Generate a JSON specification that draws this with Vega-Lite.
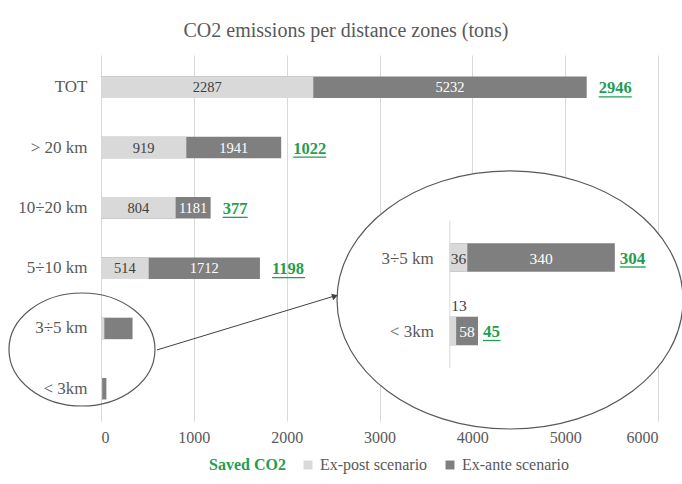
{
  "$schema": "https://vega.github.io/schema/vega-lite/v6.json",
  "width": 557,
  "height": 366,
  "autosize": "none",
  "padding": {"left": 101, "top": 55, "right": 24, "bottom": 63},
  "background": "white",
  "title": {"text": "CO2 emissions per distance zones (tons)", "font": "Liberation Serif", "fontSize": 20, "fontWeight": "normal", "color": "#595959", "anchor": "middle", "frame": "bounds", "offset": 14},
  "config": {"view": {"stroke": null}, "font": "Liberation Serif", "legend": {"layout": {"anchor": "middle"}}},
  "data": {"values": [
    {"zone": "TOT", "expost": 2287, "exante": 5232, "saved": 2946},
    {"zone": "> 20 km", "expost": 919, "exante": 1941, "saved": 1022},
    {"zone": "10÷20 km", "expost": 804, "exante": 1181, "saved": 377},
    {"zone": "5÷10 km", "expost": 514, "exante": 1712, "saved": 1198},
    {"zone": "3÷5 km", "expost": 36, "exante": 340, "saved": 304},
    {"zone": "< 3km", "expost": 13, "exante": 58, "saved": 45}
  ]},
  "resolve": {"scale": {"x": "independent", "y": "independent"}},
  "layer": [
    {
      "encoding": {
        "y": {"field": "zone", "type": "nominal", "scale": {"domain": ["TOT", "> 20 km", "10÷20 km", "5÷10 km", "3÷5 km", "< 3km"], "paddingInner": 0.643, "paddingOuter": 0.357},
          "axis": {"title": null, "domain": false, "ticks": false, "labelPadding": 14, "labelFontSize": 17, "labelColor": "#595959", "labelFont": "Liberation Serif"}}
      },
      "layer": [
        {
          "mark": {"type": "bar"},
          "encoding": {
            "x": {"field": "exante", "type": "quantitative", "title": null, "scale": {"domain": [0, 6000], "nice": false},
              "axis": {"values": [0, 1000, 2000, 3000, 4000, 5000, 6000], "format": "d", "grid": true, "gridColor": "#d9d9d9", "domain": false, "ticks": false, "labelFontSize": 16, "labelColor": "#595959", "labelPadding": 8, "labelFont": "Liberation Serif"}},
            "color": {"datum": "Ex-ante scenario", "type": "nominal",
              "scale": {"domain": ["Saved CO2", "Ex-post scenario", "Ex-ante scenario"], "range": ["#1f9e52", "#d9d9d9", "#7f7f7f"]},
              "legend": {"orient": "bottom", "direction": "horizontal", "title": null, "symbolType": "square", "symbolSize": 80, "symbolStrokeWidth": 0, "labelFontSize": 16, "labelFont": "Liberation Serif", "columnPadding": 14, "offset": 12,
                "labelColor": {"expr": "datum.label === 'Saved CO2' ? '#1f9e52' : '#595959'"},
                "labelFontWeight": {"expr": "datum.label === 'Saved CO2' ? 'bold' : 'normal'"},
                "symbolOpacity": {"expr": "datum.label === 'Saved CO2' ? 0 : 1"}}}
          }
        },
        {
          "mark": {"type": "bar"},
          "encoding": {
            "x": {"field": "expost", "type": "quantitative", "title": null},
            "color": {"datum": "Ex-post scenario", "type": "nominal"}
          }
        },
        {
          "transform": [{"filter": {"field": "zone", "oneOf": ["TOT", "> 20 km", "10÷20 km", "5÷10 km"]}}, {"fold": ["expost", "saved"], "as": ["seg", "len"]}],
          "mark": {"type": "text", "fontSize": 14.5, "font": "Liberation Serif", "baseline": "middle", "dy": 1, "color": "#404040"},
          "encoding": {
            "x": {"field": "len", "type": "quantitative", "stack": "zero", "bandPosition": 0.5, "title": null},
            "detail": {"field": "seg"},
            "order": {"field": "seg", "sort": "ascending"},
            "text": {"field": "len", "type": "quantitative", "format": "d"},
            "opacity": {"condition": {"test": "datum.seg === 'expost'", "value": 1}, "value": 0}
          }
        },
        {
          "transform": [{"filter": {"field": "zone", "oneOf": ["TOT", "> 20 km", "10÷20 km", "5÷10 km"]}}, {"fold": ["expost", "saved"], "as": ["seg", "len"]}],
          "mark": {"type": "text", "fontSize": 14.5, "font": "Liberation Serif", "baseline": "middle", "dy": 1, "color": "#ffffff"},
          "encoding": {
            "x": {"field": "len", "type": "quantitative", "stack": "zero", "bandPosition": 0.5, "title": null},
            "detail": {"field": "seg"},
            "order": {"field": "seg", "sort": "ascending"},
            "text": {"field": "exante", "type": "quantitative", "format": "d"},
            "opacity": {"condition": {"test": "datum.seg === 'saved'", "value": 1}, "value": 0}
          }
        },
        {
          "transform": [{"filter": {"field": "zone", "oneOf": ["TOT", "> 20 km", "10÷20 km", "5÷10 km"]}}],
          "mark": {"type": "text", "align": "left", "baseline": "middle", "dx": 12, "dy": 1, "fontSize": 16.5, "fontWeight": "bold", "font": "Liberation Serif"},
          "encoding": {
            "x": {"field": "exante", "type": "quantitative", "title": null},
            "text": {"field": "saved", "type": "quantitative", "format": "d"},
            "color": {"datum": "Saved CO2", "type": "nominal"}
          }
        },
        {
          "transform": [{"filter": {"field": "zone", "oneOf": ["TOT", "> 20 km", "5÷10 km"]}}],
          "mark": {"type": "rule", "xOffset": 12, "x2Offset": 45, "yOffset": 9.5, "strokeWidth": 1.3, "color": "#1f9e52"},
          "encoding": {"x": {"field": "exante", "type": "quantitative", "title": null}, "x2": {"field": "exante"}}
        },
        {
          "transform": [{"filter": {"field": "zone", "equal": "10÷20 km"}}],
          "mark": {"type": "rule", "xOffset": 12, "x2Offset": 37, "yOffset": 9.5, "strokeWidth": 1.3, "color": "#1f9e52"},
          "encoding": {"x": {"field": "exante", "type": "quantitative", "title": null}, "x2": {"field": "exante"}}
        },
        {
          "transform": [{"filter": {"field": "zone", "equal": "TOT"}}],
          "mark": {"type": "point", "shape": "M1,0C1,0.4275,0.552,0.774,0,0.774C-0.552,0.774,-1,0.4275,-1,0C-1,-0.4275,-0.552,-0.774,0,-0.774C0.552,-0.774,1,-0.4275,1,0Z", "size": 21316, "filled": false, "stroke": "#595959", "strokeWidth": 1.2, "opacity": 1},
          "encoding": {"x": {"datum": -205, "type": "quantitative"}, "y": {"datum": "3÷5 km", "type": "nominal", "bandPosition": 1.479}}
        },
        {
          "transform": [{"filter": {"field": "zone", "equal": "TOT"}}],
          "mark": {"type": "rule", "stroke": "#404040", "strokeWidth": 1},
          "encoding": {"x": {"datum": 603, "type": "quantitative"}, "x2": {"datum": 2553}, "y": {"datum": "3÷5 km", "type": "nominal", "bandPosition": 1.5}, "y2": {"datum": "3÷5 km", "bandPosition": -1.056}}
        },
        {
          "transform": [{"filter": {"field": "zone", "equal": "TOT"}}],
          "mark": {"type": "point", "shape": "M1,0C1,0.412,0.552,0.746,0,0.746C-0.552,0.746,-1,0.412,-1,0C-1,-0.412,-0.552,-0.746,0,-0.746C0.552,-0.746,1,-0.412,1,0Z", "size": 119716, "filled": true, "fill": "#ffffff", "fillOpacity": 1, "stroke": "#595959", "strokeWidth": 1.2, "opacity": 1},
          "encoding": {"x": {"datum": 4406, "type": "quantitative"}, "y": {"datum": "3÷5 km", "type": "nominal", "bandPosition": -0.823}}
        },
        {
          "transform": [{"filter": {"field": "zone", "equal": "TOT"}}],
          "mark": {"type": "point", "shape": "triangle-right", "size": 45, "angle": 343, "filled": true, "fill": "#404040", "opacity": 1},
          "encoding": {"x": {"datum": 2520, "type": "quantitative"}, "y": {"datum": "3÷5 km", "type": "nominal", "bandPosition": -1.0}}
        }
      ]
    },
    {
      "transform": [{"filter": {"field": "zone", "oneOf": ["3÷5 km", "< 3km"]}}],
      "encoding": {
        "y": {"field": "zone", "type": "nominal", "scale": {"domain": ["3÷5 km", "< 3km"], "range": [151.5, 327], "paddingInner": 0.612, "paddingOuter": 0.5, "align": 0.5}, "axis": null}
      },
      "layer": [
        {
          "mark": {"type": "bar"},
          "encoding": {"x": {"field": "exante", "type": "quantitative", "scale": {"domain": [-719, 429], "nice": false}, "axis": null}, "color": {"datum": "Ex-ante scenario", "type": "nominal"}}
        },
        {
          "mark": {"type": "bar"},
          "encoding": {"x": {"field": "expost", "type": "quantitative", "axis": null}, "color": {"datum": "Ex-post scenario", "type": "nominal"}}
        },
        {
          "mark": {"type": "tick", "orient": "vertical", "size": 73.5, "thickness": 1, "color": "#d9d9d9", "opacity": 1},
          "encoding": {"x": {"datum": 0, "type": "quantitative", "axis": null}}
        },
        {
          "mark": {"type": "text", "align": "right", "baseline": "middle", "dx": -16, "dy": 1, "fontSize": 17, "font": "Liberation Serif", "color": "#595959"},
          "encoding": {"x": {"datum": 0, "type": "quantitative", "axis": null}, "text": {"field": "zone", "type": "nominal"}}
        },
        {
          "transform": [{"fold": ["expost", "saved"], "as": ["seg", "len"]}],
          "mark": {"type": "text", "fontSize": 15.5, "font": "Liberation Serif", "baseline": "middle", "dy": 1, "color": "#404040"},
          "encoding": {
            "x": {"field": "len", "type": "quantitative", "stack": "zero", "bandPosition": 0.5, "axis": null},
            "detail": {"field": "seg"},
            "order": {"field": "seg", "sort": "ascending"},
            "text": {"field": "len", "type": "quantitative", "format": "d"},
            "opacity": {"condition": {"test": "datum.seg === 'expost' && datum.zone === '3÷5 km'", "value": 1}, "value": 0}
          }
        },
        {
          "transform": [{"fold": ["expost", "saved"], "as": ["seg", "len"]}],
          "mark": {"type": "text", "fontSize": 15.5, "font": "Liberation Serif", "baseline": "middle", "dy": -25, "dx": 6, "color": "#404040"},
          "encoding": {
            "x": {"field": "len", "type": "quantitative", "stack": "zero", "bandPosition": 0.5, "axis": null},
            "detail": {"field": "seg"},
            "order": {"field": "seg", "sort": "ascending"},
            "text": {"field": "len", "type": "quantitative", "format": "d"},
            "opacity": {"condition": {"test": "datum.seg === 'expost' && datum.zone === '< 3km'", "value": 1}, "value": 0}
          }
        },
        {
          "transform": [{"fold": ["expost", "saved"], "as": ["seg", "len"]}],
          "mark": {"type": "text", "fontSize": 15.5, "font": "Liberation Serif", "baseline": "middle", "dy": 1, "color": "#ffffff"},
          "encoding": {
            "x": {"field": "len", "type": "quantitative", "stack": "zero", "bandPosition": 0.5, "axis": null},
            "detail": {"field": "seg"},
            "order": {"field": "seg", "sort": "ascending"},
            "text": {"field": "exante", "type": "quantitative", "format": "d"},
            "opacity": {"condition": {"test": "datum.seg === 'saved'", "value": 1}, "value": 0}
          }
        },
        {
          "mark": {"type": "text", "align": "left", "baseline": "middle", "dx": 5, "dy": 1, "fontSize": 17, "fontWeight": "bold", "font": "Liberation Serif"},
          "encoding": {
            "x": {"field": "exante", "type": "quantitative", "axis": null},
            "text": {"field": "saved", "type": "quantitative", "format": "d"},
            "color": {"datum": "Saved CO2", "type": "nominal"}
          }
        },
        {
          "transform": [{"filter": {"field": "zone", "equal": "3÷5 km"}}],
          "mark": {"type": "rule", "xOffset": 5, "x2Offset": 31, "yOffset": 9.5, "strokeWidth": 1.3, "color": "#1f9e52"},
          "encoding": {"x": {"field": "exante", "type": "quantitative", "axis": null}, "x2": {"field": "exante"}}
        },
        {
          "transform": [{"filter": {"field": "zone", "equal": "< 3km"}}],
          "mark": {"type": "rule", "xOffset": 5, "x2Offset": 22.5, "yOffset": 9.5, "strokeWidth": 1.3, "color": "#1f9e52"},
          "encoding": {"x": {"field": "exante", "type": "quantitative", "axis": null}, "x2": {"field": "exante"}}
        }
      ]
    }
  ]
}
